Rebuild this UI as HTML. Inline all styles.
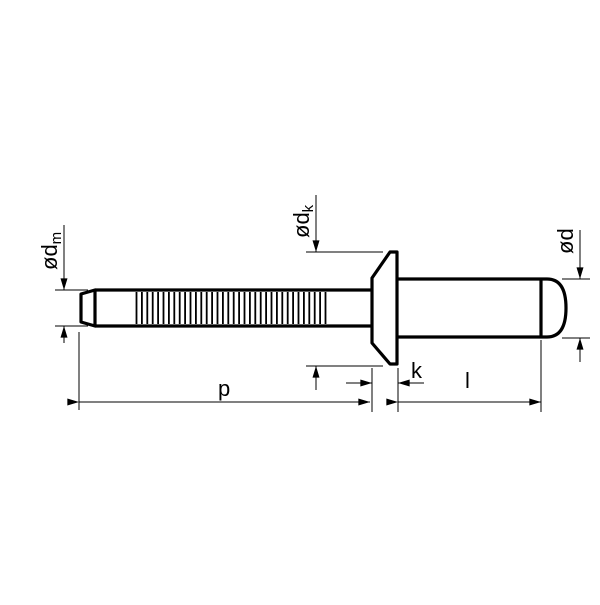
<!DOCTYPE html>
<html><head><style>body{margin:0;background:#fff}</style></head><body>
<svg width="600" height="600" viewBox="0 0 600 600" xmlns="http://www.w3.org/2000/svg" font-family="Liberation Sans, sans-serif">
<defs>
<marker id="a" viewBox="0 0 10 6" refX="10" refY="3" markerWidth="14" markerHeight="7" markerUnits="userSpaceOnUse" orient="auto"><path d="M0,0L10,3L0,6z" fill="#000"/></marker>
</defs>
<g stroke="#000" fill="none" stroke-width="3.2" stroke-linejoin="round">
<path d="M95,290 L372,290 M95,326 L372,326"/>
<path d="M95,290 L81,294 L81,322 L95,326 Z"/>
<path d="M372,278 L372,343 L390,364 L397,364 L397,252 L390,252 Z"/>
<path d="M397,279 L547,279 Q566,279 566,308 Q566,337 547,337 L397,337"/>
<path d="M541,279 L541,337"/>
</g>
<g stroke="#000" stroke-width="1">
<path stroke-width="1.8" d="M136.5,292V324 M141.9,292V324 M147.3,292V324 M152.7,292V324 M158.1,292V324 M163.5,292V324 M168.9,292V324 M174.3,292V324 M179.7,292V324 M185.1,292V324 M190.5,292V324 M195.9,292V324 M201.3,292V324 M206.7,292V324 M212.1,292V324 M217.5,292V324 M222.9,292V324 M228.3,292V324 M233.7,292V324 M239.1,292V324 M244.5,292V324 M249.9,292V324 M255.3,292V324 M260.7,292V324 M266.1,292V324 M271.5,292V324 M276.9,292V324 M282.3,292V324 M287.7,292V324 M293.1,292V324 M298.5,292V324 M303.9,292V324 M309.3,292V324 M314.7,292V324 M320.1,292V324 M325.5,292V324"/>
<path d="M55,290H88 M55,326H88 M79,332V410"/>
<path d="M64,225V290" marker-end="url(#a)"/>
<path d="M64,343V326" marker-end="url(#a)"/>
<path d="M306,252H383 M306,366H383"/>
<path d="M316,195V252" marker-end="url(#a)"/>
<path d="M316,390V366" marker-end="url(#a)"/>
<path d="M562,279H590 M562,338H590"/>
<path d="M580,230V279" marker-end="url(#a)"/>
<path d="M580,362V338" marker-end="url(#a)"/>
<path d="M79,402H370" marker-start="url(#a)" marker-end="url(#a)" />
<path d="M372,368V412 M398,368V412 M541,340V412"/>
<path d="M346,383H372" marker-end="url(#a)"/>
<path d="M424,383H398" marker-end="url(#a)"/>
<path d="M398,402H541" marker-start="url(#a)" marker-end="url(#a)"/>
</g>
<g font-size="22" fill="#000">
<text x="218" y="396">p</text>
<text x="411" y="378">k</text>
<text x="465" y="388">l</text>
<text transform="translate(57,270) rotate(-90)">ød<tspan font-size="15" dy="4">m</tspan></text>
<text transform="translate(309,238) rotate(-90)">ød<tspan font-size="15" dy="4">k</tspan></text>
<text transform="translate(573,254) rotate(-90)">ød</text>
</g>
</svg>
</body></html>
